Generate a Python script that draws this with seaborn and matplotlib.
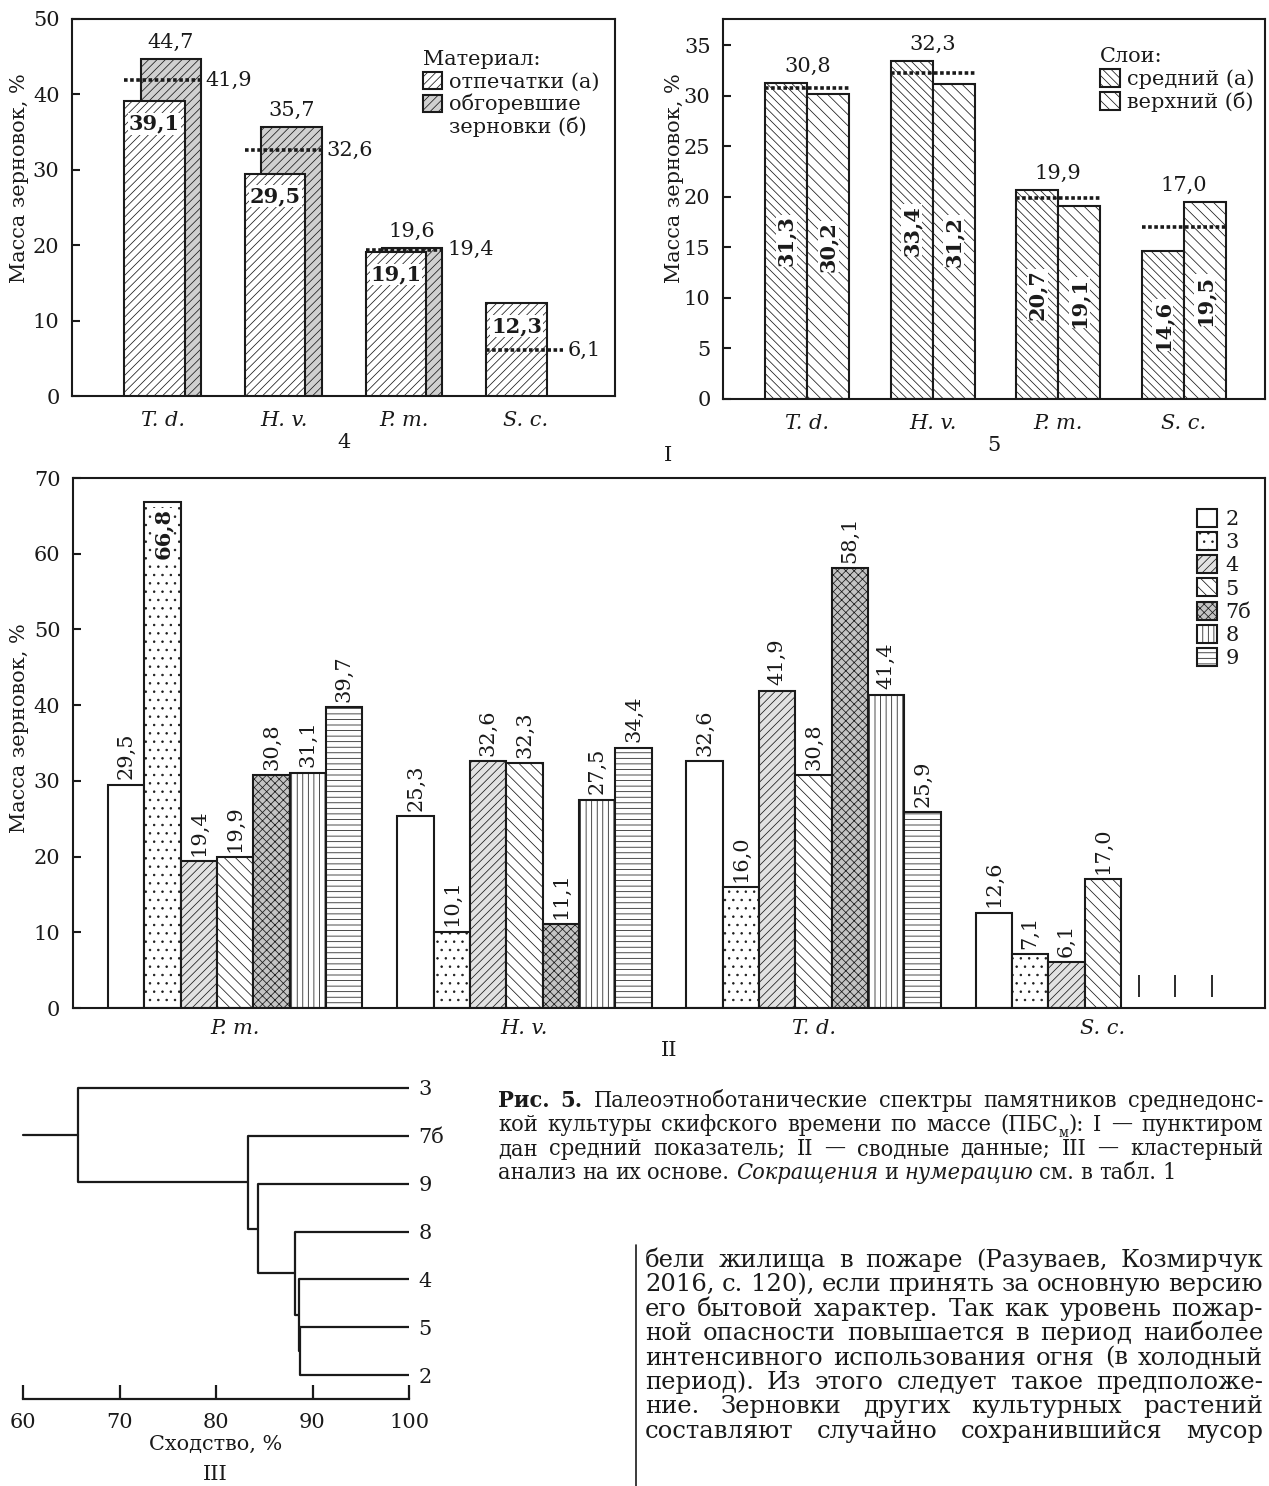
import numpy as np
import pandas as pd
import seaborn as sns
import matplotlib.pyplot as plt
from matplotlib.patches import Patch
from matplotlib.lines import Line2D

# ---- данные: памятник 4 (материал) ----
crops_top = ['T. d.', 'H. v.', 'P. m.', 'S. c.']
s4_prints = [39.1, 29.5, 19.1, 12.3]      # отпечатки (а)
s4_burnt = [44.7, 35.7, 19.6, np.nan]     # обгоревшие зерновки (б)
s4_mean = [41.9, 32.6, 19.4, 6.1]

# ---- памятник 5 (слои) ----
s5_middle = [31.3, 33.4, 20.7, 14.6]      # средний (а)
s5_upper = [30.2, 31.2, 19.1, 19.5]       # верхний (б)
s5_mean = [30.8, 32.3, 19.9, 17.0]

# ---- сводные данные ----
crops_all = ['P. m.', 'H. v.', 'T. d.', 'S. c.']
sites = ['2', '3', '4', '5', '7б', '8', '9']
pm_vals = [29.5, 66.8, 19.4, 19.9, 30.8, 31.1, 39.7]
hv_vals = [25.3, 10.1, 32.6, 32.3, 11.1, 27.5, 34.4]
td_vals = [32.6, 16.0, 41.9, 30.8, 58.1, 41.4, 25.9]
sc_vals = [12.6, 7.1, 6.1, 17.0, 0.0, 0.0, 0.0]

# ---- кластерный анализ ----
leaves = ['3', '7б', '9', '8', '4', '5', '2']
link_a = [5, 4, 3, 2, 1, 0]
link_b = [6, 7, 8, 9, 10, 11]
link_sim = [88.7, 88.6, 88.2, 84.4, 83.3, 65.7]

caption = [
    'Рис. 5. Палеоэтноботанические спектры памятников среднедонс-',
    'кой культуры скифского времени по массе (ПБС_м): I — пунктиром',
    'дан средний показатель; II — сводные данные; III — кластерный',
    'анализ на их основе. Сокращения и нумерацию см. в табл. 1',
]
body = [
    'бели жилища в пожаре (Разуваев, Козмирчук',
    '2016, с. 120), если принять за основную версию',
    'его бытовой характер. Так как уровень пожар-',
    'ной опасности повышается в период наиболее',
    'интенсивного использования огня (в холодный',
    'период). Из этого следует такое предположе-',
    'ние. Зерновки других культурных растений',
    'составляют случайно сохранившийся мусор',
]
bold_words = {'Рис.', '5.'}
italic_words = {'Сокращения', 'нумерацию'}

W, H = 1269, 1486
INK = '#1a1a1a'
FS = 15

sns.set_theme(style='ticks')
plt.rcParams.update({
    'font.family': ['DejaVu Serif'],
    'font.size': FS,
    'text.color': INK, 'axes.labelcolor': INK,
    'xtick.color': INK, 'ytick.color': INK,
    'axes.edgecolor': INK, 'axes.linewidth': 1.5,
    'hatch.linewidth': 0.55,
})

fig = plt.figure(figsize=(W / 100, H / 100), dpi=100)


def add_ax(l, t, r, b):
    return fig.add_axes([l / W, 1 - b / H, (r - l) / W, (b - t) / H])


def fmt(v):
    return f'{v:.1f}'.replace('.', ',')


def style_axis(ax, yticks, ylabel, lab_x, lab_y, xlabel):
    ax.set_yticks(yticks)
    ax.tick_params(axis='y', direction='in', length=6, width=1.5, labelsize=FS, pad=9)
    ax.tick_params(axis='x', length=0, labelsize=FS, pad=11)
    for lbl in ax.get_xticklabels():
        lbl.set_fontstyle('italic')
    ax.set_ylabel(ylabel, fontsize=FS)
    ax.yaxis.set_label_coords(lab_x, lab_y)
    ax.set_xlabel(xlabel, fontsize=FS, labelpad=2)
    for sp in ax.spines.values():
        sp.set_visible(True)
        sp.set_linewidth(1.5)


# ================= I: памятник 4 =================
ax1 = add_ax(72, 19, 615, 396)
df4 = pd.DataFrame({'crop': crops_top, 'prints': s4_prints, 'burnt': s4_burnt})
sns.barplot(data=df4, x='crop', y='burnt', color='#d0d0d0', saturation=1,
            width=0.5, errorbar=None, ax=ax1)
sns.barplot(data=df4, x='crop', y='prints', color='white', saturation=1,
            width=0.5, errorbar=None, ax=ax1)
OFF_A, OFF_B, HW = -0.07, 0.065, 0.25
for bar in ax1.containers[0]:
    bar.set_x(bar.get_x() + OFF_B)
    bar.set_edgecolor(INK)
    bar.set_linewidth(1.5)
    bar.set_hatch('////')
    bar.set_zorder(2)
for bar in ax1.containers[1]:
    bar.set_x(bar.get_x() + OFF_A)
    bar.set_edgecolor(INK)
    bar.set_linewidth(1.5)
    bar.set_hatch('////')
    bar.set_zorder(3)

xs = np.arange(len(crops_top))
ax1.hlines(s4_mean, xs + OFF_A - HW, xs + OFF_B + HW, colors=INK,
           linestyles=(0, (1, 0.7)), linewidth=2.6, zorder=5)
for x, a, b, m in zip(xs, s4_prints, s4_burnt, s4_mean):
    ax1.text(x + OFF_B + HW + 0.04, m, fmt(m), ha='left', va='center', fontsize=FS, zorder=6)
    if not np.isnan(b):
        ax1.text(x + OFF_B, b + 2.2, fmt(b), ha='center', va='center', fontsize=FS)
    ax1.text(x + OFF_A, a - 3.0, fmt(a), ha='center', va='center', fontsize=FS,
             fontweight='bold', zorder=6,
             bbox=dict(facecolor='white', edgecolor='none', pad=0.6))
ax1.set_ylim(0, 50)
ax1.set_xlim(-0.754, 3.745)
style_axis(ax1, range(0, 51, 10), 'Масса зерновок, %', -0.079, 0.578, '4')
ax1.legend(
    handles=[Patch(facecolor='white', edgecolor=INK, linewidth=1.5, hatch='////',
                   label='отпечатки (а)'),
             Patch(facecolor='#d0d0d0', edgecolor=INK, linewidth=1.5, hatch='////',
                   label='обгоревшие'),
             Patch(facecolor='none', edgecolor='none', label='зерновки (б)')],
    title='Материал:', title_fontsize=FS, fontsize=FS, frameon=False,
    loc='upper left', bbox_to_anchor=(0.628, 0.945), borderpad=0,
    handlelength=0.9, handleheight=0.9, handletextpad=0.35, labelspacing=0.12,
    alignment='left')

# ================= I: памятник 5 =================
ax2 = add_ax(723, 19, 1265, 399)
layers = ['средний (а)', 'верхний (б)']
df5 = pd.DataFrame({'crop': crops_top * 2,
                    'layer': [layers[0]] * 4 + [layers[1]] * 4,
                    'value': s5_middle + s5_upper})
sns.barplot(data=df5, x='crop', y='value', hue='layer', hue_order=layers,
            palette=['white', 'white'], saturation=1, width=0.67, gap=0,
            errorbar=None, legend=False, ax=ax2)
hatch5 = ['\\' * 4, '\\' * 3]
for cont, h in zip(ax2.containers, hatch5):
    for bar in cont:
        bar.set_edgecolor(INK)
        bar.set_linewidth(1.5)
        bar.set_hatch(h)
BW5 = 0.335
for x, a, b, m in zip(xs, s5_middle, s5_upper, s5_mean):
    ax2.text(x - BW5 / 2, a / 2, fmt(a), rotation=90, ha='center', va='center',
             fontsize=FS, fontweight='bold', zorder=6,
             bbox=dict(facecolor='white', edgecolor='none', pad=0.3))
    ax2.text(x + BW5 / 2, b / 2, fmt(b), rotation=90, ha='center', va='center',
             fontsize=FS, fontweight='bold', zorder=6,
             bbox=dict(facecolor='white', edgecolor='none', pad=0.3))
    ax2.text(x, max(a, b) + 1.65, fmt(m), ha='center', va='center', fontsize=FS)
ax2.hlines(s5_mean, xs - BW5, xs + BW5, colors=INK, linestyles=(0, (1, 0.7)),
           linewidth=2.6, zorder=5)
ax2.set_ylim(0, 37.6)
ax2.set_xlim(-0.672, 3.649)
style_axis(ax2, range(0, 36, 5), 'Масса зерновок, %', -0.072, 0.58, '5')
ax2.legend(
    handles=[Patch(facecolor='white', edgecolor=INK, linewidth=1.5, hatch=h, label=l)
             for h, l in zip(hatch5, layers)],
    title='Слои:', title_fontsize=FS, fontsize=FS, frameon=False,
    loc='upper left', bbox_to_anchor=(0.677, 0.955), borderpad=0,
    handlelength=0.95, handleheight=0.95, handletextpad=0.35, labelspacing=0.15,
    alignment='left')

fig.text(668 / W, 1 - 455 / H, 'I', ha='center', va='center', fontsize=FS)

# ================= II: сводные данные =================
ax3 = add_ax(73, 478, 1265, 1008)
df_all = pd.DataFrame({'crop': np.repeat(crops_all, len(sites)),
                       'site': sites * len(crops_all),
                       'value': pm_vals + hv_vals + td_vals + sc_vals})
site_fill = ['white', 'white', '#e2e2e2', 'white', '#c4c4c4', 'white', 'white']
site_hatch = ['', '..', '////', '\\' * 3, 'xxxx', '|||', '---']
sns.barplot(data=df_all, x='crop', y='value', hue='site', hue_order=sites,
            order=crops_all, palette=dict(zip(sites, site_fill)), saturation=1,
            width=0.879, gap=0, errorbar=None, legend=False, ax=ax3)
vals_by_crop = [pm_vals, hv_vals, td_vals, sc_vals]
for j, cont in enumerate(ax3.containers):
    for i, bar in enumerate(cont):
        bar.set_edgecolor(INK)
        bar.set_linewidth(1.5)
        bar.set_hatch(site_hatch[j])
        v = vals_by_crop[i][j]
        cx = bar.get_x() + bar.get_width() / 2
        if v == 0:
            bar.set_visible(False)
            ax3.vlines(cx, 1.5, 4.3, colors=INK, linewidth=1.3)
        elif v > 60:
            ax3.text(cx, v - 0.8, fmt(v), rotation=90, ha='center', va='top',
                     fontsize=FS, fontweight='bold', zorder=6,
                     bbox=dict(facecolor='white', edgecolor='none', pad=0.5))
        else:
            ax3.text(cx, v + 0.7, fmt(v), rotation=90, ha='center', va='bottom',
                     fontsize=FS)
ax3.set_ylim(0, 70)
ax3.set_xlim(-0.561, 3.561)
style_axis(ax3, range(0, 71, 10), 'Масса зерновок, %', -0.037, 0.528, 'II')
ax3.tick_params(axis='x', pad=8)
ax3.legend(
    handles=[Patch(facecolor=f, edgecolor=INK, linewidth=1.5, hatch=h, label=s)
             for f, h, s in zip(site_fill, site_hatch, sites)],
    fontsize=FS, frameon=False, loc='upper left', bbox_to_anchor=(0.9346, 0.962),
    borderpad=0, handlelength=0.95, handleheight=0.95, handletextpad=0.4,
    labelspacing=0.15)

# ================= III: дендрограмма =================
ax4 = add_ax(23, 1064, 409, 1399)
node_x = {i: 100.0 for i in range(len(leaves))}
node_y = {i: float(i) for i in range(len(leaves))}
for k, (a, b, s) in enumerate(zip(link_a, link_b, link_sim)):
    for c in (a, b):
        ax4.plot([node_x[c], s], [node_y[c], node_y[c]], color=INK, lw=1.6,
                 clip_on=False, solid_capstyle='butt')
    ax4.plot([s, s], [node_y[a], node_y[b]], color=INK, lw=1.6, clip_on=False)
    node_x[len(leaves) + k] = s
    node_y[len(leaves) + k] = (node_y[a] + node_y[b]) / 2
root = len(leaves) + len(link_sim) - 1
ax4.plot([60, node_x[root]], [node_y[root]] * 2, color=INK, lw=1.6, clip_on=False)
ax4.set_xlim(60, 100)
ax4.set_ylim(6.5, -0.5)
ax4.set_xticks(range(60, 101, 10))
ax4.set_yticks(range(len(leaves)))
ax4.set_yticklabels(leaves)
ax4.yaxis.tick_right()
ax4.tick_params(axis='y', length=0, pad=7, labelsize=FS)
ax4.tick_params(axis='x', direction='in', length=10, width=1.6, labelsize=FS, pad=10)
for side in ('left', 'right', 'top'):
    ax4.spines[side].set_visible(False)
ax4.spines['bottom'].set_linewidth(1.6)
ax4.set_xlabel('Сходство, %', fontsize=FS, labelpad=2)
fig.text(215 / W, 1 - 1474 / H, 'III', ha='center', va='center', fontsize=FS)

# ================= подпись и текст =================
R = fig.canvas.get_renderer()


def word_pieces(word):
    if '_' in word:
        head, tail = word.split('_')
        return [(head, ''), (tail[0], 'sub'), (tail[1:], '')]
    if word in bold_words:
        return [(word, 'b')]
    if word in italic_words:
        return [(word, 'i')]
    return [(word, '')]


def piece_text(s, st, size, family, stretch):
    kw = dict(fontsize=size * (0.6 if st == 'sub' else 1.0), ha='left',
              va='baseline', family=family, fontstretch=stretch)
    if st == 'b':
        kw['fontweight'] = 'bold'
    if st == 'i':
        kw['fontstyle'] = 'italic'
    return fig.text(0, 0, s, **kw)


def line_width(line, size, family, stretch):
    total = 0
    for word in line.split():
        for s, st in word_pieces(word):
            t = piece_text(s, st, size, family, stretch)
            total += t.get_window_extent(R).width
            t.remove()
    return total


def fit_size(lines, width, max_size, family, stretch='normal', gap_em=0.25):
    best = max_size
    for ln in lines:
        n = len(ln.split())
        w10 = line_width(ln, 10, family, stretch)
        size = width / (w10 / 10 + (n - 1) * gap_em * 100 / 72)
        best = min(best, size)
    return best


def draw_par(lines, x0, x1, base0, step, size, family, justify_last, stretch='normal'):
    for k, ln in enumerate(lines):
        groups = []
        for word in ln.split():
            arts = []
            for s, st in word_pieces(word):
                t = piece_text(s, st, size, family, stretch)
                arts.append((t, t.get_window_extent(R).width, st))
            groups.append(arts)
        widths = [sum(a[1] for a in g) for g in groups]
        last = k == len(lines) - 1
        if len(groups) > 1 and (justify_last or not last):
            gap = (x1 - x0 - sum(widths)) / (len(groups) - 1)
        else:
            gap = 0.27 * size * 100 / 72
        x = x0
        y = base0 + k * step
        for g, w in zip(groups, widths):
            xx = x
            for t, pw, st in g:
                dy = 6 if st == 'sub' else 0
                t.set_position((xx / W, 1 - (y + dy) / H))
                xx += pw
            x += w + gap


CAP_FONT = ['DejaVu Serif']
cap_size = fit_size(caption[:3], 1263 - 498, 16.8, CAP_FONT, 'condensed', gap_em=0.22)
draw_par(caption, 498, 1263, 1107, 24, cap_size, CAP_FONT, justify_last=False,
         stretch='condensed')
BODY_FONT = ['DejaVu Serif']
body_size = fit_size(body, 1263 - 645, 17.5, BODY_FONT, gap_em=0.22)
draw_par(body, 645, 1263, 1267, 24.4, body_size, BODY_FONT, justify_last=True)
fig.add_artist(Line2D([636 / W, 636 / W], [1 - 1245 / H, 0], color=INK, lw=1.2,
                      transform=fig.transFigure))

fig.savefig('out.png', dpi=100)
